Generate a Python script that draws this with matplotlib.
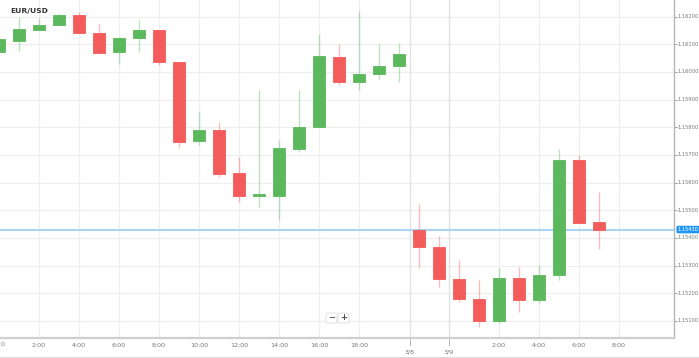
import matplotlib
matplotlib.use("Agg")
import matplotlib.pyplot as plt
from matplotlib.patches import FancyBboxPatch
from matplotlib.lines import Line2D

# ---- data (hourly EUR/USD candles) ----
opens = [1.16072, 1.16112, 1.16152, 1.16170, 1.16206, 1.16141, 1.16072, 1.16123, 1.16151, 1.16036,
         1.15750, 1.15790, 1.15635, 1.15552, 1.15551, 1.15721, 1.15801, 1.16054, 1.15964, 1.15993,
         1.16022, 1.15428, 1.15367, 1.15251, 1.15179, 1.15099, 1.15254, 1.15175, 1.15265, 1.15682,
         1.15457]
highs = [1.16128, 1.16199, 1.16194, 1.16213, 1.16217, 1.16174, 1.16127, 1.16188, 1.16152, 1.16036,
         1.15859, 1.15819, 1.15692, 1.15935, 1.15754, 1.15935, 1.16137, 1.16101, 1.16221, 1.16101,
         1.16105, 1.15522, 1.15407, 1.15320, 1.15247, 1.15291, 1.15294, 1.15302, 1.15721, 1.15700,
         1.15566]
lows = [1.16066, 1.16076, 1.16150, 1.16168, 1.16139, 1.16065, 1.16029, 1.16072, 1.16025, 1.15725,
        1.15736, 1.15620, 1.15530, 1.15512, 1.15464, 1.15710, 1.15801, 1.15953, 1.15935, 1.15975,
        1.15964, 1.15291, 1.15222, 1.15168, 1.15077, 1.15092, 1.15132, 1.15164, 1.15247, 1.15454,
        1.15360]
closes = [1.16119, 1.16155, 1.16170, 1.16206, 1.16141, 1.16069, 1.16123, 1.16152, 1.16036, 1.15747,
          1.15790, 1.15631, 1.15551, 1.15556, 1.15725, 1.15801, 1.16058, 1.15964, 1.15993, 1.16022,
          1.16065, 1.15367, 1.15251, 1.15179, 1.15099, 1.15255, 1.15175, 1.15265, 1.15682, 1.15454,
          1.15430]
xtick_pos = [2, 4, 6, 8, 10, 12, 14, 16, 18, 25, 27, 29, 31]
xtick_labels = ["2:00", "4:00", "6:00", "8:00", "10:00", "12:00", "14:00", "16:00",
                "18:00", "2:00", "4:00", "6:00", "8:00"]
first_label = "0"
date_pos = [20.55, 22.5]
date_labels = ["3/8", "3/9"]
ytick_vals = [1.151, 1.152, 1.153, 1.154, 1.155, 1.156, 1.157, 1.158, 1.159, 1.160, 1.161, 1.162]
last_price = 1.15430
title = "EUR/USD"

GREEN = "#5cb85c"
RED = "#f45b5b"
W, H = 699, 358

fig = plt.figure(figsize=(W / 100, H / 100), dpi=100)
fig.patch.set_facecolor("white")
ax = fig.add_axes([0, 20 / H, 674 / W, 338 / H])
ax.set_facecolor("white")
ax.set_xlim(0.05, 33.75)
ax.set_ylim(1.15038, 1.16260)

# grid
for y in ytick_vals:
    ax.axhline(y, color="#efefef", lw=0.9, zorder=0)
for x in xtick_pos:
    ax.axvline(x, color="#efefef", lw=0.9, zorder=0)
for x in date_pos:
    ax.axvline(x, color="#e2e2e2", lw=1.0, zorder=0)

# candles
bw = 0.63
min_h = 0.00006
for i, (o, h, l, c) in enumerate(zip(opens, highs, lows, closes)):
    col = GREEN if c >= o else RED
    ax.vlines(i, l, h, color=col, alpha=0.4, lw=1.0, zorder=2)
    bottom = min(o, c)
    height = max(abs(c - o), min_h)
    ax.bar(i, height, bottom=bottom, width=bw, color=col, edgecolor=col,
           linewidth=0.6, zorder=3)

# last price line
ax.axhline(last_price, color="#a9d5f7", lw=1.5, zorder=1)

# spines
for s in ["left", "top"]:
    ax.spines[s].set_visible(False)
ax.spines["bottom"].set_color("#cfcfcf")
ax.spines["bottom"].set_linewidth(1.6)
ax.spines["right"].set_color("#b5b5b5")
ax.spines["right"].set_linewidth(1.0)
ax.set_xticks([])
ax.set_yticks([])

# x labels
xt = ax.get_xaxis_transform()
fig.text(0.5 / W, 1 - 345 / H, first_label, ha="left", va="center",
         fontsize=4.6, color="#777777")
for x, lab in zip(xtick_pos, xtick_labels):
    ax.text(x, -0.021, lab, transform=xt, ha="center", va="center",
            fontsize=4.6, color="#777777", clip_on=False)
for x, lab in zip(date_pos, date_labels):
    ax.text(x, -0.04, lab, transform=xt, ha="center", va="center",
            fontsize=4.6, color="#777777", clip_on=False)
    ax.plot([x, x], [-0.002, -0.02], transform=xt, color="#aaaaaa", lw=0.6, clip_on=False)

# y labels
yt = ax.get_yaxis_transform()
for y in ytick_vals:
    ax.plot([1.0, 1.0045], [y, y], transform=yt, color="#999999", lw=0.6, clip_on=False)
    ax.text(1.0055, y, f"{y:.5f}", transform=yt, ha="left", va="center",
            fontsize=3.7, color="#777777", clip_on=False)

# last price tag
ax.text(1.0055, last_price, f"{last_price:.5f}", transform=yt, ha="left", va="center",
        fontsize=3.7, color="white", clip_on=False, zorder=10,
        bbox=dict(boxstyle="round,pad=0.25,rounding_size=0.3", fc="#2196f3", ec="none"))

# title
fig.text(10 / W, 1 - 11 / H, title, ha="left", va="center", fontsize=5.4,
         fontweight="bold", color="#333333")

# zoom buttons
def box(x0, y0, w, h):
    return FancyBboxPatch((x0 / W, 1 - (y0 + h) / H), w / W, h / H,
                          boxstyle="round,pad=0,rounding_size=0.003",
                          transform=fig.transFigure, fc="#ffffff", ec="#dddddd", lw=0.6)
fig.add_artist(box(326, 313, 11, 10))
fig.add_artist(box(338, 313, 11, 10))
fig.text(331.5 / W, 1 - 318 / H, "\u2212", ha="center", va="center", fontsize=6, color="#555555", fontweight="bold")
fig.text(343.5 / W, 1 - 318 / H, "+", ha="center", va="center", fontsize=6, color="#555555", fontweight="bold")

# bottom border line
fig.add_artist(Line2D([0, 1], [1 - 356.5 / H, 1 - 356.5 / H], transform=fig.transFigure,
                      color="#dddddd", lw=0.8))

fig.savefig("out.png", dpi=100, facecolor="white")
